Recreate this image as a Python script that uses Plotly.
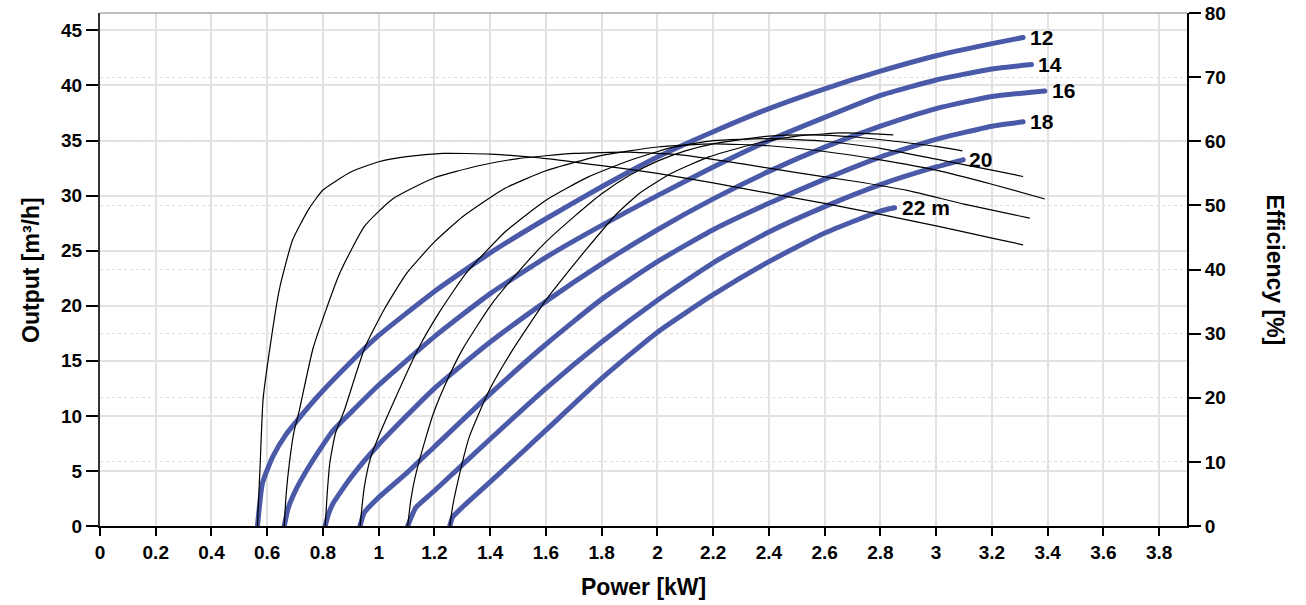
import plotly.graph_objects as go

# ---------------- data ----------------
heads = ["12", "14", "16", "18", "20", "22 m"]

# Output [m3/h] vs Power [kW] for each head
p12 = [0.565, 0.583, 0.62, 0.667, 0.775, 0.9, 1.0, 1.2, 1.4, 1.6, 1.8, 2.0, 2.2, 2.4, 2.6, 2.8, 3.0, 3.2, 3.312]
q12 = [0.0, 3.9, 6.3, 8.3, 11.6, 14.9, 17.3, 21.3, 24.8, 27.9, 30.8, 33.5, 35.8, 37.9, 39.7, 41.3, 42.7, 43.8, 44.36]
p14 = [0.661, 0.675, 0.703, 0.75, 0.834, 0.9, 1.0, 1.2, 1.4, 1.6, 1.8, 2.0, 2.2, 2.4, 2.6, 2.8, 3.0, 3.2, 3.342]
q14 = [0.0, 1.6, 3.3, 5.4, 8.6, 10.3, 12.8, 17.2, 21.1, 24.4, 27.3, 30.0, 32.6, 35.0, 37.1, 39.1, 40.5, 41.5, 41.9]
p16 = [0.808, 0.82, 0.835, 0.9, 1.0, 1.2, 1.4, 1.6, 1.8, 2.0, 2.2, 2.4, 2.6, 2.8, 3.0, 3.2, 3.39]
q16 = [0.0, 1.1, 2.0, 4.4, 7.4, 12.5, 16.7, 20.4, 23.8, 26.9, 29.7, 32.2, 34.4, 36.3, 37.9, 39.0, 39.5]
p18 = [0.933, 0.948, 1.0, 1.1, 1.2, 1.4, 1.6, 1.8, 2.0, 2.2, 2.4, 2.6, 2.8, 3.0, 3.2, 3.312]
q18 = [0.0, 1.2, 2.6, 4.8, 7.2, 12.0, 16.5, 20.6, 24.0, 26.9, 29.3, 31.5, 33.5, 35.1, 36.3, 36.7]
p20 = [1.104, 1.12, 1.134, 1.2, 1.4, 1.6, 1.8, 2.0, 2.2, 2.4, 2.6, 2.8, 3.0, 3.097]
q20 = [0.0, 1.0, 1.7, 3.2, 7.9, 12.5, 16.7, 20.5, 23.9, 26.7, 29.0, 31.0, 32.6, 33.25]
p22 = [1.255, 1.265, 1.3, 1.4, 1.6, 1.8, 2.0, 2.2, 2.4, 2.6, 2.8, 2.851]
q22 = [0.0, 0.8, 1.7, 4.0, 8.7, 13.4, 17.6, 21.0, 24.0, 26.6, 28.6, 28.9]

# Efficiency [%] vs Power [kW] for each head
e12x = [0.565, 0.575, 0.585, 0.607, 0.643, 0.691, 0.75, 0.8, 0.9, 1.0, 1.1, 1.23, 1.4, 1.6, 1.8, 2.0, 2.2, 2.4, 2.6, 2.8, 3.0, 3.2, 3.312]
e12y = [0.0, 10.0, 19.7, 27.0, 36.8, 44.6, 49.5, 52.4, 55.2, 56.8, 57.6, 58.1, 58.0, 57.3, 56.2, 55.0, 53.5, 51.9, 50.3, 48.6, 46.8, 44.9, 43.85]
e14x = [0.661, 0.668, 0.68, 0.695, 0.715, 0.765, 0.86, 0.95, 1.05, 1.2, 1.35, 1.5, 1.7, 1.9, 2.1, 2.3, 2.5, 2.7, 2.9, 3.1, 3.336]
e14y = [0.0, 5.0, 10.0, 14.5, 18.0, 27.8, 39.4, 46.8, 51.0, 54.3, 56.1, 57.3, 58.1, 58.3, 57.8, 56.5, 55.1, 53.8, 52.3, 50.2, 48.0]
e16x = [0.808, 0.815, 0.825, 0.845, 0.877, 0.95, 1.02, 1.1, 1.2, 1.3, 1.45, 1.6, 1.8, 2.0, 2.2, 2.4, 2.6, 2.8, 3.0, 3.2, 3.39]
e16y = [0.0, 5.0, 10.0, 14.5, 18.1, 27.8, 33.8, 39.4, 44.3, 48.2, 52.6, 55.4, 57.8, 59.1, 59.6, 59.3, 58.4, 57.1, 55.5, 53.3, 51.0]
e18x = [0.933, 0.94, 0.948, 0.97, 1.0, 1.05, 1.14, 1.22, 1.313, 1.457, 1.6, 1.75, 1.9, 2.05, 2.2, 2.4, 2.6, 2.8, 3.0, 3.2, 3.312]
e18y = [0.0, 3.0, 6.0, 10.5, 14.0, 19.0, 27.5, 33.5, 39.4, 46.0, 50.8, 54.4, 57.0, 59.0, 60.1, 60.4, 60.0, 58.9, 57.2, 55.5, 54.5]
e20x = [1.104, 1.115, 1.13, 1.17, 1.2, 1.24, 1.3, 1.4, 1.5, 1.6, 1.7, 1.8, 1.9, 2.0, 2.1, 2.2, 2.4, 2.55, 2.7, 2.85, 3.0, 3.094]
e20y = [0.0, 4.0, 7.5, 13.9, 18.0, 22.2, 27.5, 34.3, 39.6, 44.3, 48.2, 51.8, 54.7, 56.9, 58.5, 59.6, 60.8, 61.0, 60.7, 60.0, 59.2, 58.5]
e22x = [1.255, 1.265, 1.277, 1.325, 1.397, 1.481, 1.601, 1.684, 1.744, 1.85, 1.936, 2.05, 2.187, 2.368, 2.5, 2.666, 2.846]
e22y = [0.0, 3.0, 5.6, 13.9, 21.2, 27.5, 35.3, 39.9, 43.1, 48.5, 51.9, 55.0, 57.6, 59.8, 60.8, 61.3, 61.0]

x_ticks = [0, 0.2, 0.4, 0.6, 0.8, 1, 1.2, 1.4, 1.6, 1.8, 2, 2.2, 2.4, 2.6, 2.8, 3, 3.2, 3.4, 3.6, 3.8]
x_tick_labels = ["0", "0.2", "0.4", "0.6", "0.8", "1", "1.2", "1.4", "1.6", "1.8", "2",
                 "2.2", "2.4", "2.6", "2.8", "3", "3.2", "3.4", "3.6", "3.8"]
y_ticks = [0, 5, 10, 15, 20, 25, 30, 35, 40, 45]
y2_ticks = [0, 10, 20, 30, 40, 50, 60, 70, 80]

flows = [(p12, q12), (p14, q14), (p16, q16), (p18, q18), (p20, q20), (p22, q22)]
effs = [(e12x, e12y), (e14x, e14y), (e16x, e16y), (e18x, e18y), (e20x, e20y), (e22x, e22y)]

BLUE = "#4a5aa9"
FONT = "Liberation Sans"

fig = go.Figure()

for ex, ey in effs:
    fig.add_trace(go.Scatter(x=ex, y=ey, yaxis="y2", mode="lines",
                             line=dict(color="black", width=1.2, shape="spline", smoothing=0.5),
                             hoverinfo="skip", showlegend=False))

for px, qy in flows:
    fig.add_trace(go.Scatter(x=px, y=qy, mode="lines",
                             line=dict(color=BLUE, width=5, shape="spline", smoothing=0.5),
                             showlegend=False))
    fig.add_trace(go.Scatter(x=[px[0], px[-1]], y=[qy[0], qy[-1]], mode="markers",
                             marker=dict(color=BLUE, size=5), showlegend=False, hoverinfo="skip"))

label_shift = [5, 5, 5, 5, 4, 5]
for (px, qy), name, sh in zip(flows, heads, label_shift):
    fig.add_annotation(x=px[-1], y=qy[-1], text=name, showarrow=False, xanchor="left",
                       yanchor="middle", xshift=sh,
                       font=dict(family=FONT, size=21, color="black", weight="bold"))

tickfont = dict(family=FONT, size=19, color="black", weight="bold")

fig.update_layout(
    width=1306, height=605,
    margin=dict(l=100, r=119, t=13, b=79, autoexpand=False),
    paper_bgcolor="white", plot_bgcolor="white",
    xaxis=dict(range=[0, 3.9], tickvals=x_ticks, ticktext=x_tick_labels,
               showgrid=True, gridcolor="#e2e2e2", gridwidth=1.6,
               showline=True, linecolor="black", linewidth=2,
               ticks="outside", ticklen=8, tickwidth=2, tickcolor="black",
               tickfont=tickfont, zeroline=False, automargin=False),
    yaxis=dict(range=[0, 46.58], tickvals=y_ticks,
               showgrid=True, gridcolor="#e2e2e2", gridwidth=1.6,
               showline=True, linecolor="#333333", linewidth=2,
               ticks="outside", ticklen=12, tickwidth=2, tickcolor="black",
               tickfont=tickfont, zeroline=False, automargin=False),
    yaxis2=dict(range=[0, 80], tickvals=y2_ticks, overlaying="y", side="right",
                showgrid=True, gridcolor="#dedede", gridwidth=1, griddash="dot",
                showline=True, linecolor="black", linewidth=2,
                ticks="outside", ticklen=12, tickwidth=2, tickcolor="black",
                tickfont=tickfont, zeroline=False, automargin=False),
)

# top border of plot area
fig.add_shape(type="line", xref="paper", yref="paper", x0=0, x1=1, y0=1, y1=1,
              line=dict(color="#aaaaaa", width=1.5))

titlefont = dict(family=FONT, size=23, color="black", weight="bold")
fig.add_annotation(xref="paper", yref="paper", x=-0.064, y=0.5, text="Output [m³/h]",
                   textangle=-90, showarrow=False, font=titlefont, xanchor="center", yanchor="middle")
fig.add_annotation(xref="paper", yref="paper", x=1.081, y=0.5, text="Efficiency [%]",
                   textangle=90, showarrow=False, font=titlefont, xanchor="center", yanchor="middle")
fig.add_annotation(xref="paper", yref="paper", x=0.5, y=-0.148, text="Power [kW]",
                   showarrow=False, font=titlefont, xanchor="center", yanchor="bottom")

fig.write_html("out.html", config={"displayModeBar": False},
               post_script="document.body.style.margin='0px';")
